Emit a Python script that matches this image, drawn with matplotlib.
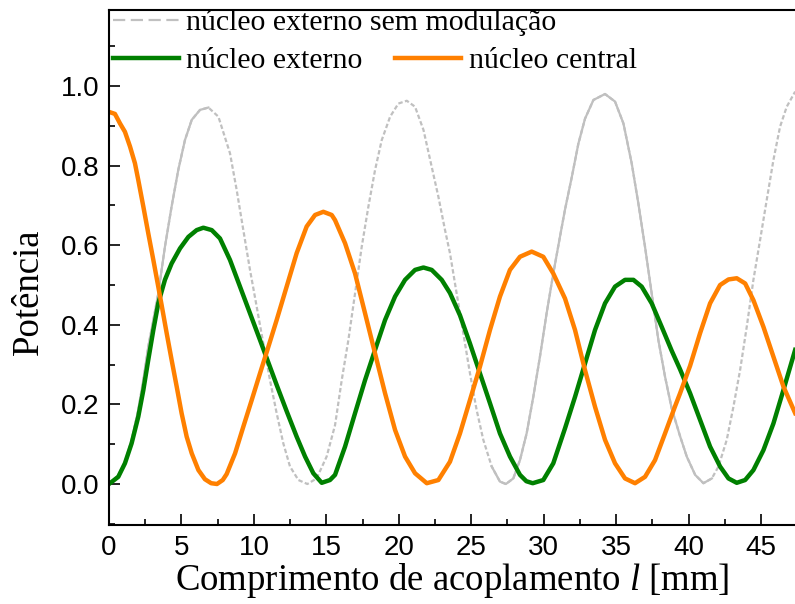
import matplotlib
matplotlib.use('Agg')
import matplotlib.pyplot as plt
from matplotlib.lines import Line2D
from matplotlib.ticker import MultipleLocator
import numpy as np

plt.rcParams['font.family'] = ['Liberation Serif', 'DejaVu Serif']
plt.rcParams['mathtext.fontset'] = 'custom'
plt.rcParams['mathtext.rm'] = 'Liberation Serif'
plt.rcParams['mathtext.it'] = 'Liberation Serif:italic'

# dados: comprimento l [mm] e potencia
x_sem_mod = [0.0, 0.64, 1.10, 1.56, 2.02, 2.37, 2.71, 3.06, 3.40, 3.86, 4.32, 4.78, 5.24, 5.71,
             6.28, 6.86, 7.55, 8.35, 8.81, 9.27, 9.73, 10.19, 10.65, 11.11, 11.57, 12.03, 12.49,
             13.07, 13.69, 14.33, 15.02, 15.60, 16.06, 16.52, 16.98, 17.44, 17.90, 18.36, 18.82,
             19.40, 19.97, 20.55, 21.12, 21.70, 22.27, 22.73, 23.19, 23.53, 23.99, 24.45, 24.91,
             25.37, 25.83, 26.41, 26.98, 27.39, 27.90, 28.36, 28.82, 29.28, 29.74, 30.20, 30.66,
             31.12, 31.47, 31.93, 32.39, 32.85, 33.43, 34.23, 34.92, 35.50, 36.07, 36.53, 36.99,
             37.45, 37.91, 38.37, 38.83, 39.41, 39.87, 40.45, 41.02, 41.60, 42.06, 42.63, 43.09,
             43.55, 44.01, 44.47, 44.93, 45.39, 45.85, 46.31, 46.77, 47.35]
p_sem_mod = [0.0, 0.022, 0.055, 0.110, 0.186, 0.262, 0.345, 0.412, 0.479, 0.596, 0.697, 0.789,
             0.864, 0.915, 0.940, 0.946, 0.923, 0.831, 0.739, 0.638, 0.538, 0.446, 0.353, 0.261,
             0.178, 0.102, 0.044, 0.010, 0.0, 0.014, 0.069, 0.148, 0.261, 0.362, 0.479, 0.596,
             0.697, 0.789, 0.864, 0.923, 0.956, 0.963, 0.948, 0.890, 0.797, 0.722, 0.638, 0.580,
             0.479, 0.379, 0.278, 0.186, 0.111, 0.044, 0.006, 0.0, 0.014, 0.060, 0.127, 0.219,
             0.320, 0.429, 0.529, 0.621, 0.690, 0.770, 0.855, 0.918, 0.965, 0.980, 0.961, 0.906,
             0.806, 0.705, 0.596, 0.479, 0.362, 0.270, 0.190, 0.120, 0.069, 0.023, 0.002, 0.014,
             0.044, 0.111, 0.194, 0.286, 0.395, 0.513, 0.613, 0.714, 0.814, 0.898, 0.948, 0.986]

x_externo = [0.0, 0.64, 1.10, 1.56, 2.02, 2.37, 2.71, 3.06, 3.40, 3.86, 4.32, 4.90, 5.48, 6.05,
             6.51, 7.09, 7.66, 8.35, 9.04, 9.73, 10.42, 11.00, 11.57, 12.26, 12.95, 13.53, 14.10,
             14.68, 15.25, 15.60, 16.29, 16.98, 17.67, 18.36, 19.05, 19.74, 20.43, 21.12, 21.70,
             22.27, 22.96, 23.53, 24.22, 24.91, 25.60, 26.29, 26.98, 27.67, 28.36, 28.80, 29.24,
             29.97, 30.66, 31.47, 32.16, 32.85, 33.54, 34.23, 34.92, 35.61, 36.19, 36.76, 37.45,
             38.14, 38.83, 39.41, 40.10, 40.79, 41.48, 42.17, 42.75, 43.32, 43.90, 44.47, 45.16,
             45.85, 46.54, 47.35]
p_externo = [0.0, 0.018, 0.052, 0.102, 0.169, 0.236, 0.312, 0.387, 0.454, 0.513, 0.554, 0.592,
             0.621, 0.638, 0.644, 0.638, 0.617, 0.563, 0.496, 0.429, 0.362, 0.305, 0.249, 0.183,
             0.119, 0.069, 0.027, 0.003, 0.010, 0.023, 0.094, 0.178, 0.261, 0.337, 0.412, 0.471,
             0.513, 0.538, 0.544, 0.538, 0.513, 0.480, 0.424, 0.353, 0.278, 0.203, 0.127, 0.069,
             0.023, 0.007, 0.002, 0.010, 0.052, 0.140, 0.219, 0.303, 0.387, 0.454, 0.496, 0.513,
             0.513, 0.496, 0.454, 0.395, 0.335, 0.288, 0.228, 0.161, 0.094, 0.044, 0.014, 0.003,
             0.010, 0.035, 0.085, 0.152, 0.236, 0.337]

x_central = [0.0, 0.41, 0.76, 1.10, 1.45, 1.79, 2.02, 2.37, 2.71, 3.06, 3.40, 3.63, 3.98, 4.32,
             4.67, 5.01, 5.36, 5.71, 6.17, 6.62, 7.05, 7.45, 7.85, 8.12, 8.70, 9.27, 9.85, 10.42,
             11.00, 11.57, 12.26, 12.95, 13.64, 14.22, 14.79, 15.37, 15.60, 16.29, 16.98, 17.67,
             18.36, 19.05, 19.74, 20.43, 21.12, 21.93, 22.73, 23.53, 24.22, 24.91, 25.60, 26.29,
             26.98, 27.67, 28.36, 29.17, 29.97, 30.66, 31.47, 32.16, 32.85, 33.54, 34.23, 34.92,
             35.61, 36.30, 36.99, 37.68, 38.37, 39.06, 39.41, 40.10, 40.79, 41.48, 42.17, 42.75,
             43.32, 43.90, 44.47, 45.16, 45.85, 46.54, 47.35]
p_central = [0.935, 0.930, 0.906, 0.885, 0.848, 0.806, 0.764, 0.697, 0.630, 0.563, 0.496, 0.450,
             0.379, 0.312, 0.245, 0.178, 0.119, 0.077, 0.035, 0.012, 0.002, 0.0, 0.010, 0.025,
             0.077, 0.144, 0.211, 0.278, 0.345, 0.412, 0.496, 0.580, 0.647, 0.676, 0.684, 0.676,
             0.663, 0.605, 0.529, 0.429, 0.328, 0.228, 0.136, 0.069, 0.027, 0.002, 0.010, 0.056,
             0.127, 0.211, 0.295, 0.387, 0.471, 0.538, 0.571, 0.584, 0.571, 0.529, 0.466, 0.387,
             0.286, 0.194, 0.111, 0.052, 0.014, 0.002, 0.018, 0.060, 0.127, 0.195, 0.228, 0.297,
             0.379, 0.454, 0.500, 0.514, 0.517, 0.504, 0.462, 0.395, 0.320, 0.245, 0.178]

cinza = '#c0c0c0'
verde = '#008000'
laranja = '#ff8000'

fig = plt.figure(figsize=(7.95, 6.04), dpi=100)
ax = fig.add_axes([0.1371, 0.1308, 0.8629, 0.8526])

# a curva sem modulacao aparece tracejada em partes e continua em outras
xs = np.array(x_sem_mod)
ps = np.array(p_sem_mod)
ax.plot(xs, ps, color=cinza, lw=1.6, dashes=(2, 1.1), dash_joinstyle='round')
for a, b in [(0.0, 7.0), (26.0, 41.8)]:
    m = (xs >= a) & (xs <= b)
    ax.plot(xs[m], ps[m], color=cinza, lw=1.6, solid_joinstyle='round')

ax.plot(x_externo, p_externo, color=verde, lw=3.2, solid_joinstyle='round')
ax.plot(x_central, p_central, color=laranja, lw=3.2, solid_joinstyle='round')

ax.set_xlim(0, 47.34)
ax.set_ylim(-0.103, 1.191)
ax.xaxis.set_major_locator(MultipleLocator(5))
ax.xaxis.set_minor_locator(MultipleLocator(2.5))
ax.yaxis.set_major_locator(MultipleLocator(0.2))
ax.yaxis.set_minor_locator(MultipleLocator(0.1))
ax.yaxis.set_major_formatter(plt.FuncFormatter(lambda v, p: '%.1f' % v))
ax.tick_params(which='both', direction='in', width=1.2, top=False, right=False)
ax.tick_params(which='major', length=8, pad=7, labelsize=20)
ax.tick_params(which='minor', length=4.5)
for lab in ax.get_xticklabels() + ax.get_yticklabels():
    lab.set_family('Liberation Sans')
for s in ['left', 'bottom', 'top']:
    ax.spines[s].set_linewidth(1.5)
ax.spines['right'].set_visible(False)

ax.set_xlabel('Comprimento de acoplamento $\\mathit{l}$ [mm]', fontsize=26.5, labelpad=0)
ax.set_ylabel('Potência', fontsize=26.5)
ax.yaxis.set_label_coords(-0.092, 0.452)

h1 = Line2D([], [], color=cinza, lw=1.6, dashes=(5.5, 2.5))
h2 = Line2D([], [], color=verde, lw=3.2)
h3 = Line2D([], [], color=laranja, lw=3.2)
leg1 = ax.legend([h1], ['núcleo externo sem modulação'], loc='center left',
                 bbox_to_anchor=(0.006, 0.975), frameon=False, fontsize=21.5,
                 borderpad=0, borderaxespad=0, handlelength=2.2, handletextpad=0.25)
ax.add_artist(leg1)
ax.legend([h2, h3], ['núcleo externo', 'núcleo central'], loc='center left', ncol=2,
          bbox_to_anchor=(0.006, 0.901), frameon=False, fontsize=21.5,
          borderpad=0, borderaxespad=0, handlelength=2.2, handletextpad=0.25,
          columnspacing=1.1)

fig.savefig('out.png', dpi=100)
